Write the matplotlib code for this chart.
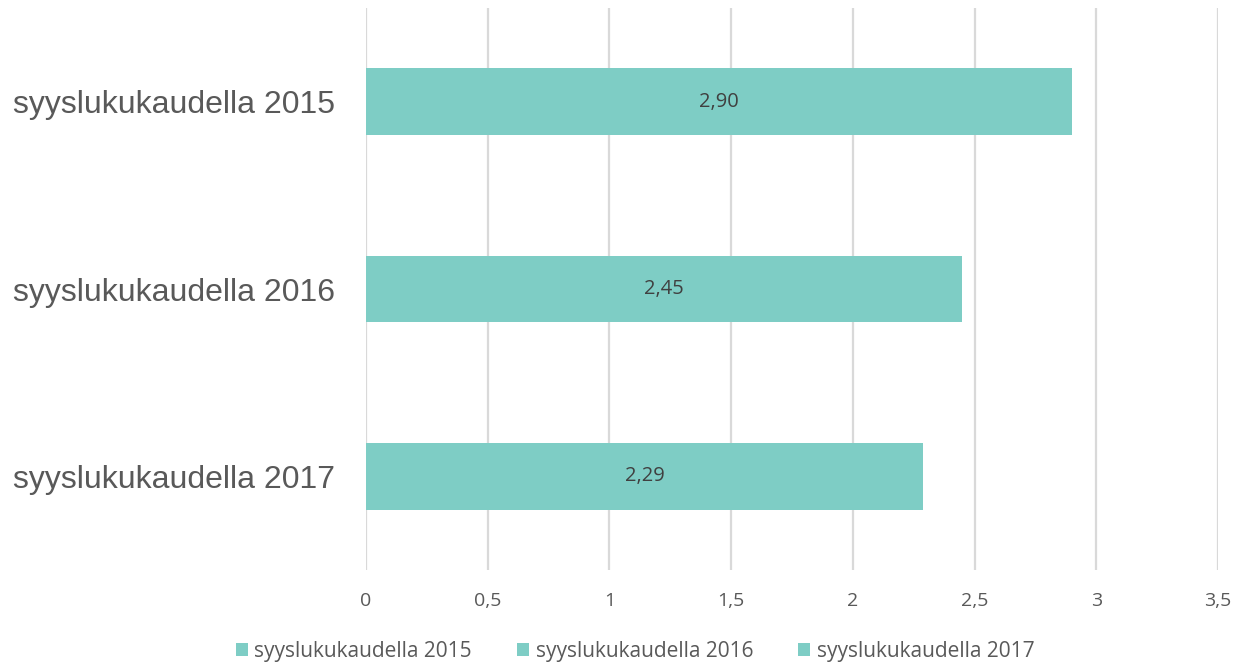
import matplotlib.pyplot as plt
from matplotlib.patches import Patch

categories = ["syyslukukaudella 2015", "syyslukukaudella 2016", "syyslukukaudella 2017"]
values = [2.90, 2.45, 2.29]
x_ticks = [0, 0.5, 1, 1.5, 2, 2.5, 3, 3.5]
x_tick_labels = ["0", "0,5", "1", "1,5", "2", "2,5", "3", "3,5"]

bar_color = "#7ECDC5"
text_grey = "#595959"

fig = plt.figure(figsize=(12.35, 6.63), dpi=100)
ax = fig.add_axes([366 / 1235, 1 - 570 / 663, (1218 - 366) / 1235, (570 - 8) / 663])

ypos = list(range(len(categories)))
ax.barh(ypos, values, height=0.355, color=bar_color, zorder=2)
for y, v in zip(ypos, values):
    ax.text(v / 2, y, f"{v:.2f}".replace(".", ","), ha="center", va="center",
            fontsize=14.5, color="#404040", family="Open Sans", zorder=3)

ax.set_xlim(0, 3.5)
ax.set_ylim(2.5, -0.5)
ax.set_xticks(x_ticks)
ax.set_xticklabels(x_tick_labels, family="Open Sans", fontsize=14, color=text_grey)
ax.set_yticks(ypos)
ax.set_yticklabels(categories, family="Liberation Sans", fontsize=23, color=text_grey)
ax.tick_params(axis="x", length=0, pad=16)
ax.tick_params(axis="y", length=0, pad=22)
ax.grid(axis="x", color="#d9d9d9", linewidth=1.6, zorder=0)
ax.set_axisbelow(True)
for s in ax.spines.values():
    s.set_visible(False)

handles = [Patch(facecolor=bar_color, label=c) for c in categories]
fig.legend(handles=handles, loc="center", bbox_to_anchor=(635 / 1235, 1 - 651 / 663),
           ncol=3, frameon=False, handlelength=0.6, handleheight=0.6,
           handletextpad=0.3, columnspacing=2.15,
           prop={"family": "Open Sans", "size": 15}, labelcolor=text_grey)

fig.savefig("out.png", dpi=100)
